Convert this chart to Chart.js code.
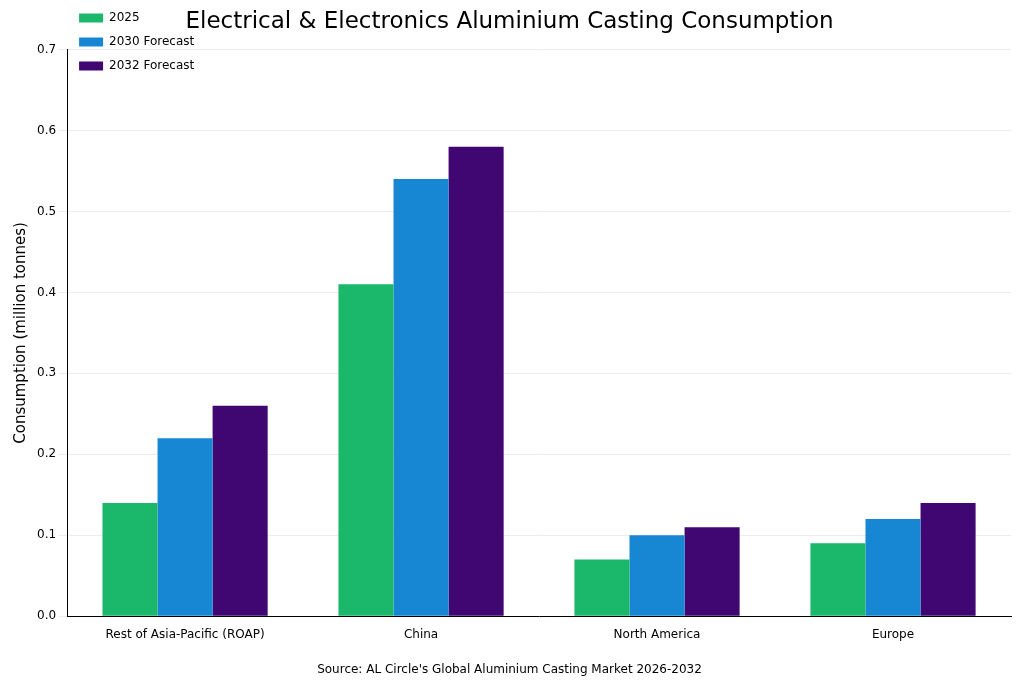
<!DOCTYPE html>
<html>
<head>
<meta charset="utf-8">
<script src="https://cdn.jsdelivr.net/npm/chart.js@4/dist/chart.umd.min.js"></script>
<style>
  body { margin: 0; background: #fff; }
  #wrap { width: 1024px; height: 683px; }
</style>
</head>
<body>
<div id="wrap"><canvas id="grafico" width="1024" height="683"></canvas></div>
<script>
const regiones = ["Rest of Asia-Pacific (ROAP)", "China", "North America", "Europe"];
const valores2025 = [0.14, 0.41, 0.07, 0.09];
const valores2030 = [0.22, 0.54, 0.10, 0.12];
const valores2032 = [0.26, 0.58, 0.11, 0.14];

const fuente = "DejaVu Sans";
Chart.defaults.font.family = fuente;
Chart.defaults.color = "#000";

new Chart(document.getElementById("grafico").getContext("2d"), {
  type: "bar",
  data: {
    labels: regiones,
    datasets: [
      { label: "2025", data: valores2025, backgroundColor: "#1bb76a" },
      { label: "2030 Forecast", data: valores2030, backgroundColor: "#1787d3" },
      { label: "2032 Forecast", data: valores2032, backgroundColor: "#400773" }
    ]
  },
  options: {
    responsive: false,
    animation: false,
    layout: { padding: { left: 8, right: 13, top: 4, bottom: 6 } },
    datasets: { bar: { categoryPercentage: 0.7, barPercentage: 1.0 } },
    plugins: {
      title: {
        display: true,
        text: "Electrical & Electronics Aluminium Casting Consumption",
        font: { size: 23, weight: "normal" },
        padding: { top: 4, bottom: 14 }
      },
      subtitle: {
        display: true,
        position: "bottom",
        text: "Source: AL Circle's Global Aluminium Casting Market 2026-2032",
        font: { size: 12 },
        padding: { top: 18, bottom: 0 }
      },
      legend: {
        position: "chartArea",
        align: "start",
        labels: { boxWidth: 24, boxHeight: 9, font: { size: 12 }, padding: 12 }
      },
      tooltip: { enabled: false }
    },
    scales: {
      x: {
        grid: { display: false },
        border: { color: "#000" },
        ticks: { font: { size: 12 }, color: "#000" }
      },
      y: {
        min: 0, max: 0.7,
        ticks: { stepSize: 0.1, font: { size: 12 }, color: "#000", callback: v => v.toFixed(1) },
        grid: { color: "#ececec" },
        border: { color: "#000" },
        title: { display: true, text: "Consumption (million tonnes)", font: { size: 15 } }
      }
    }
  }
});
</script>
</body>
</html>
